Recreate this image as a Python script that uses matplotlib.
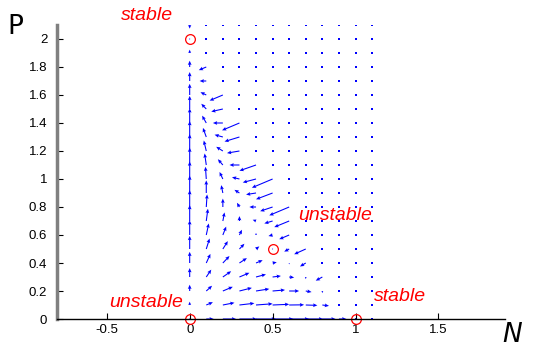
import numpy as np
import matplotlib.pyplot as plt

# grid of the phase plane
n_vals = np.round(np.arange(0, 1.15, 0.1), 2)
p_vals = np.round(np.arange(0, 2.15, 0.1), 2)

# model coefficients: dN/dt = N(1 - N - a*P), dP/dt = r*P(1 - P/K - b*N)
a_coef = 1.0
r_coef = 0.5
K_coef = 2.0
b_coef = 1.5

# largest N with a drawn arrow for each row of P
row_max_n = [0.9, 0.8, 0.8, 0.8, 0.7, 0.7, 0.6, 0.6, 0.6, 0.5, 0.5,
             0.4, 0.3, 0.3, 0.3, 0.2, 0.2, 0.1, 0.1, 0.0, 0.0, 0.0]

# fixed points
fix_n = [0, 1, 0, 0.5]
fix_p = [0, 0, 2, 0.5]

labels = ["stable", "unstable", "unstable", "stable"]
label_xy = [(-0.26, 2.17), (0.88, 0.74), (-0.26, 0.115), (1.27, 0.158)]

NN, PP = np.meshgrid(n_vals, p_vals)
dN = NN * (1 - NN - a_coef * PP)
dP = r_coef * PP * (1 - PP / K_coef - b_coef * NN)
mask = NN <= np.array(row_max_n)[:, None] + 1e-9

fig = plt.figure(figsize=(5.33, 3.55), dpi=100)
ax = fig.add_axes([0.107, 0.1014, 0.84, 0.8282])

ax.scatter(NN[~mask], PP[~mask], s=1.5, color="blue", marker="s", linewidths=0)
ax.quiver(NN[mask], PP[mask], dN[mask], dP[mask], color="blue",
          angles="xy", scale_units="xy", scale=2, width=0.0024,
          headwidth=3.5, headlength=4, headaxislength=3.5)

ax.plot(fix_n, fix_p, "o", mfc="none", mec="red", ms=7, mew=0.9, clip_on=False)

for txt, (x, y) in zip(labels, label_xy):
    ax.text(x, y, txt, color="red", fontsize=14, style="italic",
            family="Liberation Sans", ha="center", va="center")

ax.set_xlim(-0.8, 1.9)
ax.set_ylim(0, 2.1)
ax.set_xticks([-0.5, 0, 0.5, 1, 1.5])
ax.set_xticklabels(["-0.5", "0", "0.5", "1", "1.5"])
ax.set_yticks(np.round(np.arange(0, 2.01, 0.2), 1))
ax.set_yticklabels(["0", "0.2", "0.4", "0.6", "0.8", "1", "1.2", "1.4", "1.6", "1.8", "2"])
ax.tick_params(direction="in", length=4, labelsize=9.5, width=0.8)
ax.tick_params(axis="y", pad=7)
for t in ax.get_xticklabels() + ax.get_yticklabels():
    t.set_family("Liberation Sans")

ax.spines["top"].set_visible(False)
ax.spines["right"].set_visible(False)
ax.spines["left"].set_color("#808080")
ax.spines["left"].set_linewidth(2.5)
ax.spines["bottom"].set_linewidth(1)

fig.text(0.028, 0.925, "P", fontsize=19, ha="center", va="center")
fig.text(0.96, 0.055, "N", fontsize=19, ha="center", va="center", style="italic")

plt.savefig("out.png", dpi=100)
